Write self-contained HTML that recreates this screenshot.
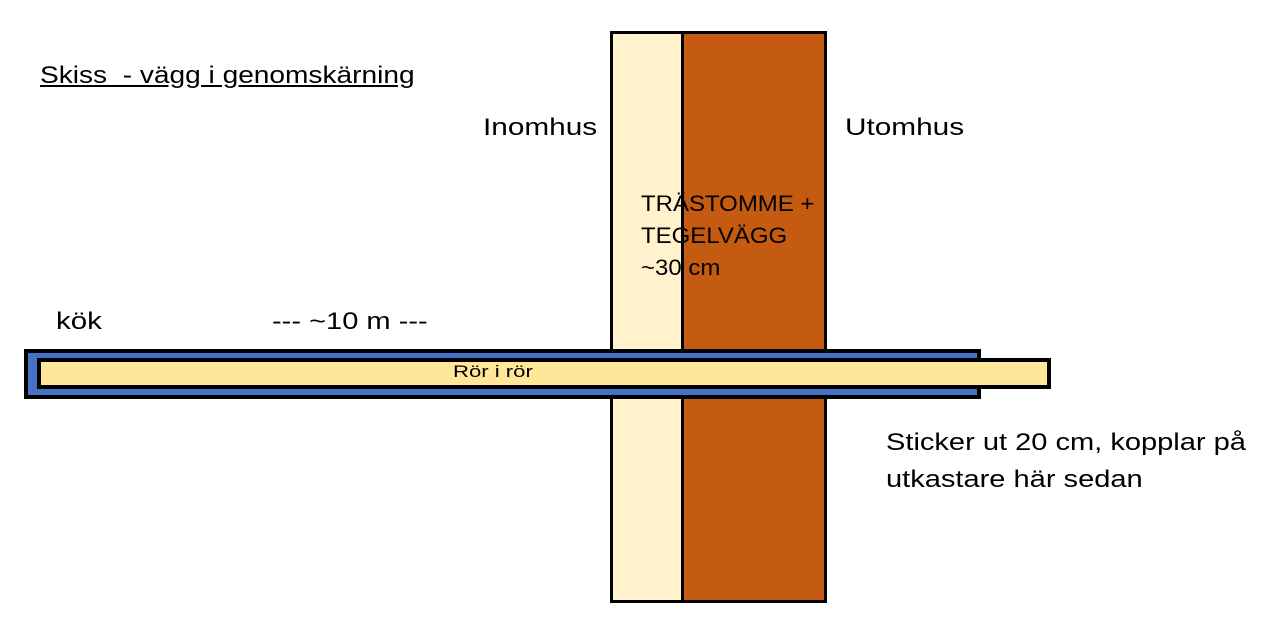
<!DOCTYPE html>
<html><head><style>
body{margin:0;width:1279px;height:634px;background:#fff;position:relative;overflow:hidden;font-family:"Liberation Sans",sans-serif;}
.a{position:absolute;box-sizing:border-box;}
.t{position:absolute;font-size:24px;color:#000;white-space:nowrap;transform-origin:0 50%;}
</style></head><body>
<div class="a" style="left:610px;top:31px;width:75px;height:572px;background:#FFF2CC;border:3px solid #000;"></div>
<div class="a" style="left:681px;top:31px;width:146px;height:572px;background:#C55A11;border:3px solid #000;"></div>
<div class="a" style="left:24px;top:349px;width:957px;height:50px;background:#4472C4;border:4px solid #000;"></div>
<div class="a" style="left:37px;top:358px;width:1014px;height:31px;background:#FFE699;border:4px solid #000;"></div>
<div class="t" style="left:453px;top:362px;font-size:17px;transform:scaleX(1.3);">Rör i rör</div>
<div class="t" style="left:40px;top:62px;text-decoration:underline;transform:scaleX(1.17);">Skiss&nbsp; - vägg i genomskärning</div>
<div class="t" style="left:483px;top:114px;transform:scaleX(1.24);">Inomhus</div>
<div class="t" style="left:845px;top:114px;transform:scaleX(1.24);">Utomhus</div>
<div class="t" style="left:641px;top:188px;line-height:32px;font-size:22px;transform:scaleX(1.09);">TRÄSTOMME +<br>TEGELVÄGG<br>~30 cm</div>
<div class="t" style="left:56px;top:308px;transform:scaleX(1.23);">kök</div>
<div class="t" style="left:272px;top:308px;transform:scaleX(1.21);">--- ~10 m ---</div>
<div class="t" style="left:886px;top:424px;line-height:37px;transform:scaleX(1.21);">Sticker ut 20 cm, kopplar på<br>utkastare här sedan</div>
</body></html>
